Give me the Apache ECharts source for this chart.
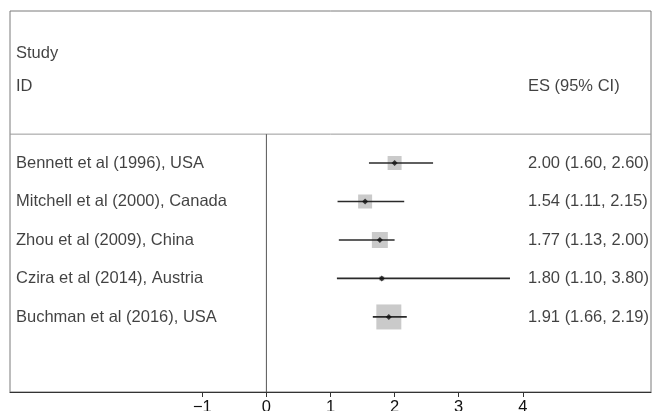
<!DOCTYPE html>
<html>
<head>
<meta charset="utf-8">
<script src="https://cdn.jsdelivr.net/npm/echarts@6/dist/echarts.min.js"></script>
<style>
html,body{margin:0;padding:0;background:#fff;}
#chart{width:660px;height:411px;}
</style>
</head>
<body>
<div id="chart"></div>
<script>
// ---- data ----
const studies = [
  'Bennett et al (1996), USA',
  'Mitchell et al (2000), Canada',
  'Zhou et al (2009), China',
  'Czira et al (2014), Austria',
  'Buchman et al (2016), USA'
];
const es = [2.00, 1.54, 1.77, 1.80, 1.91];
const ciLow = [1.60, 1.11, 1.13, 1.10, 1.66];
const ciHigh = [2.60, 2.15, 2.00, 3.80, 2.19];
const weights = [15.1, 15.1, 19.7, 1.9, 48.2];
const xTicks = [-1, 0, 1, 2, 3, 4];
const headerLeft = ['Study', 'ID'];
const headerRight = 'ES (95% CI)';

// ---- layout constants ----
const X_MIN = -4, X_MAX = 6;
const Y_MIN = -2.95, Y_MAX = 6.95;
const SEP_Y = 0.25;
const TEXT_X = 4.08;
const FONT = 'Liberation Sans, Arial, Helvetica, sans-serif';
const FS = 16.5;
const TXT = '#111';

const rows = studies.map((s, i) => i + 1);
const fmt = v => v.toFixed(2);

const chart = echarts.init(document.getElementById('chart'), null, {renderer: 'canvas'});

const option = {
  animation: false,
  backgroundColor: '#fff',
  grid: {
    left: 10, right: 9, top: 11, bottom: 19,
    containLabel: false, outerBoundsMode: 'none',
    show: true, borderColor: '#7a7a7a', borderWidth: 1
  },
  xAxis: {
    type: 'value', min: X_MIN, max: X_MAX,
    splitLine: {show: false},
    axisLine: {show: true, onZero: false, lineStyle: {color: '#333', width: 1.2}},
    axisTick: {show: true, length: 5, customValues: xTicks, lineStyle: {color: '#333'}},
    axisLabel: {
      customValues: xTicks, margin: 7,
      color: TXT, fontFamily: FONT, fontSize: FS,
      formatter: v => (v < 0 ? '\u2212' + Math.abs(v) : String(v))
    }
  },
  yAxis: {
    type: 'value', min: Y_MIN, max: Y_MAX, inverse: true, show: false
  },
  series: [
    // separator and zero line
    {
      type: 'custom', silent: true, z: 1,
      data: [0],
      renderItem: (params, api) => {
        const a = api.coord([X_MIN, SEP_Y]);
        const b = api.coord([X_MAX, SEP_Y]);
        const c = api.coord([0, SEP_Y]);
        const d = api.coord([0, Y_MAX]);
        return {
          type: 'group',
          children: [
            {type: 'line', shape: {x1: a[0], y1: a[1], x2: b[0], y2: b[1]}, style: {stroke: '#9a9a9a', lineWidth: 1}},
            {type: 'line', shape: {x1: c[0], y1: c[1], x2: d[0], y2: d[1]}, style: {stroke: '#555', lineWidth: 1}}
          ]
        };
      }
    },
    // weight boxes
    {
      type: 'scatter', z: 2, symbol: 'rect',
      data: es.map((v, i) => ({value: [v, rows[i]], symbolSize: Math.sqrt(weights[i]) * 3.6})),
      itemStyle: {color: '#bdbdbd'}
    },
    // CI lines
    {
      type: 'custom', z: 3,
      data: es.map((v, i) => [ciLow[i], ciHigh[i], rows[i]]),
      renderItem: (params, api) => {
        const p1 = api.coord([api.value(0), api.value(2)]);
        const p2 = api.coord([api.value(1), api.value(2)]);
        return {type: 'line', shape: {x1: p1[0], y1: p1[1], x2: p2[0], y2: p2[1]}, style: {stroke: '#2a2a2a', lineWidth: 1.7}};
      }
    },
    // point estimates
    {
      type: 'scatter', z: 4, symbol: 'diamond', symbolSize: 6,
      data: es.map((v, i) => [v, rows[i]]),
      itemStyle: {color: '#111'}
    },
    // study labels
    {
      type: 'scatter', z: 5, symbolSize: 0,
      data: studies.map((s, i) => ({value: [X_MIN, rows[i]], name: s})),
      label: {show: true, position: 'right', distance: 6, formatter: p => p.name, color: TXT, fontFamily: FONT, fontSize: FS}
    },
    // header labels (left)
    {
      type: 'scatter', z: 5, symbolSize: 0,
      data: [{value: [X_MIN, -1.85], name: headerLeft[0]}, {value: [X_MIN, -1], name: headerLeft[1]}],
      label: {show: true, position: 'right', distance: 6, formatter: p => p.name, color: TXT, fontFamily: FONT, fontSize: FS}
    },
    // ES labels
    {
      type: 'scatter', z: 5, symbolSize: 0,
      data: es.map((v, i) => ({value: [TEXT_X, rows[i]], name: fmt(v) + ' (' + fmt(ciLow[i]) + ', ' + fmt(ciHigh[i]) + ')'}))
        .concat([{value: [TEXT_X, -1], name: headerRight}]),
      label: {show: true, position: 'right', distance: 0, formatter: p => p.name, color: TXT, fontFamily: FONT, fontSize: FS}
    }
  ]
};
chart.setOption(option);
</script>
</body>
</html>
